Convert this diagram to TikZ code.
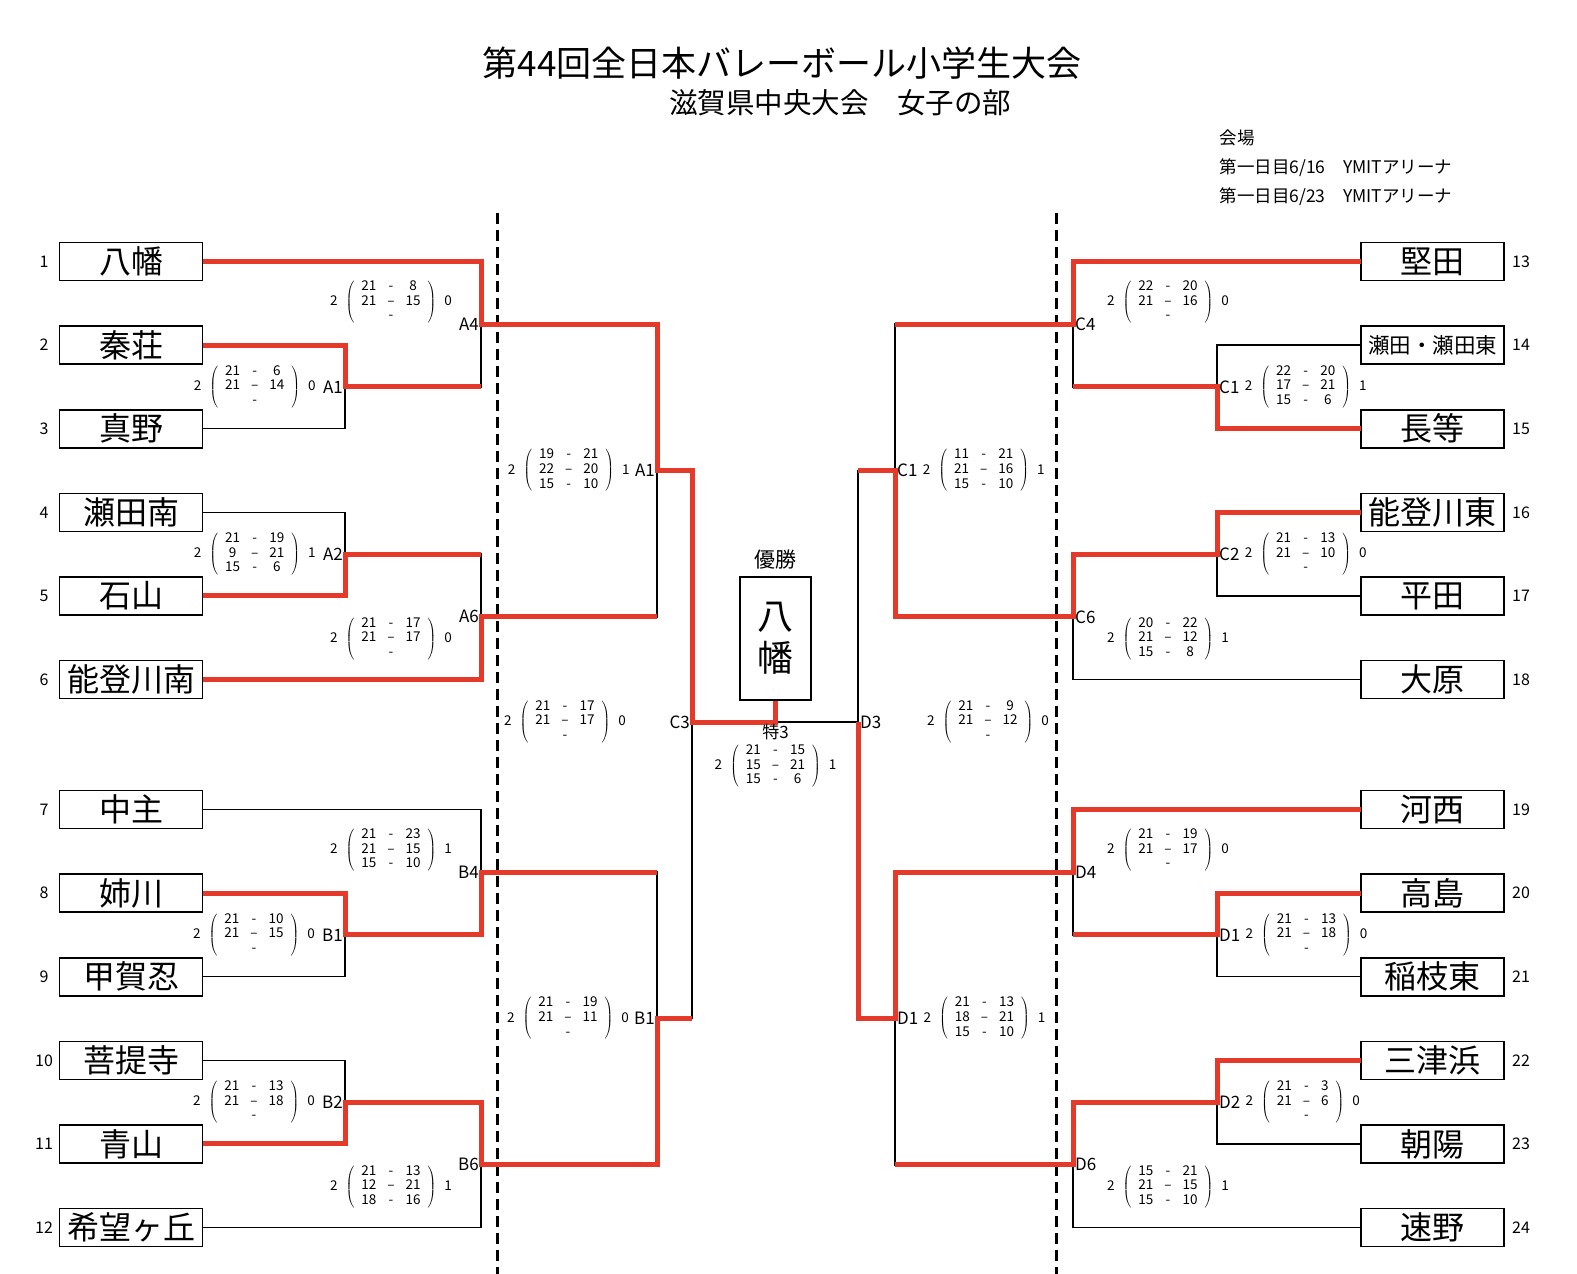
\documentclass[tikz,border=0pt]{standalone}
\usepackage{fontspec}
\setmainfont{Noto Sans CJK JP}
\usetikzlibrary{positioning, calc}

\definecolor{winred}{RGB}{229,57,42}

% result of one match: sets, three games, sets
\newcommand{\scorebox}[8]{#1\hspace{8pt}$\left(\hspace{7pt}\begin{tabular}{@{}c@{\hspace{11pt}}c@{\hspace{11pt}}c@{}}#2&-&#3\\#4&–&#5\\#6&-&#7\end{tabular}\hspace{7pt}\right)$\hspace{8pt}#8}

\begin{document}
\begin{tikzpicture}[
    x=1pt, y=-1pt,
    node distance=45.6pt and 4pt,
    team/.style={draw, line width=1.6pt, minimum width=143pt, minimum height=38pt, inner sep=0pt, outer sep=0pt, font=\fontsize{32}{32}\selectfont},
    winner/.style={draw, line width=1.5pt, minimum width=71pt, minimum height=123pt, align=center, font=\fontsize{36}{42}\selectfont},
    seed/.style={font=\fontsize{16}{16}\selectfont},
    mlabel/.style={font=\fontsize{17}{17}\selectfont, inner sep=2pt},
    score/.style={font=\fontsize{13.5}{14.7}\selectfont, inner sep=1pt},
    bline/.style={draw, line width=1.5pt},
    win/.style={draw=winred, line width=5pt},
    divider/.style={dash pattern=on 11pt off 6pt, line width=3pt}
  ]

  \path[use as bounding box, fill=white] (0,0) rectangle (1577,1274);

  % Titles
  \node[font=\fontsize{35}{35}\selectfont] (title) at (782,63) {第44回全日本バレーボール小学生大会};
  \node[font=\fontsize{28.5}{28.5}\selectfont] (subtitle) at (840,103) {滋賀県中央大会　女子の部};
  \node[font=\fontsize{17.5}{29}\selectfont, align=left, anchor=west] (venue) at (1216,168)
    {会場\\第一日目6/16　YMITアリーナ\\第一日目6/23　YMITアリーナ};

  % Dashed separation lines
  \draw[divider] (497,213) -- (497,1274);
  \draw[divider] (1056,213) -- (1056,1274);

  % Teams, left
  \node[team] (t1) at (131,261.5) {八幡};
  \node[team, below=of t1] (t2) {秦荘};
  \node[team, below=of t2] (t3) {真野};
  \node[team, below=of t3] (t4) {瀬田南};
  \node[team, below=of t4] (t5) {石山};
  \node[team, below=of t5] (t6) {能登川南};
  \node[team] (t7) at (131,809.5) {中主};
  \node[team, below=of t7] (t8) {姉川};
  \node[team, below=of t8] (t9) {甲賀忍};
  \node[team, below=of t9] (t10) {菩提寺};
  \node[team, below=of t10] (t11) {青山};
  \node[team, below=of t11] (t12) {希望ヶ丘};

  % Teams, right
  \node[team] (t13) at (1432.5,261.5) {堅田};
  \node[team, below=of t13] (t14) {\fontsize{21.5}{21.5}\selectfont 瀬田・瀬田東};
  \node[team, below=of t14] (t15) {長等};
  \node[team, below=of t15] (t16) {能登川東};
  \node[team, below=of t16] (t17) {平田};
  \node[team, below=of t17] (t18) {大原};
  \node[team] (t19) at (1432.5,809.5) {河西};
  \node[team, below=of t19] (t20) {高島};
  \node[team, below=of t20] (t21) {稲枝東};
  \node[team, below=of t21] (t22) {三津浜};
  \node[team, below=of t22] (t23) {朝陽};
  \node[team, below=of t23] (t24) {速野};

  % Draw numbers
  \foreach \i in {1,...,12} \node[seed] (n\i) at ([xshift=-87pt]t\i.center) {\i};
  \foreach \i in {13,...,24} \node[seed] (n\i) at ([xshift=88.5pt]t\i.center) {\i};

  % Champion
  \node[winner] (champ) at (775.5,638.5) {八\\幡};
  \node[font=\fontsize{21}{21}\selectfont, above=3pt of champ] (yusho) {優勝};

  % Match points
  \coordinate (mA1) at (345,386.9);
  \coordinate (mA4) at (481,324.2);
  \coordinate (mA2) at (345,554.1);
  \coordinate (mA6) at (481,616.8);
  \coordinate (mA1t) at (657,470.5);
  \coordinate (mB1) at (345,934.9);
  \coordinate (mB4) at (481,872.2);
  \coordinate (mB2) at (345,1102.1);
  \coordinate (mB6) at (481,1164.8);
  \coordinate (mB1t) at (657,1018.5);
  \coordinate (mC3) at (692,722);
  \coordinate (mD3) at (858,722);
  \coordinate (mC1) at (1217,386.9);
  \coordinate (mC4) at (1073,324.2);
  \coordinate (mC2) at (1217,554.1);
  \coordinate (mC6) at (1073,616.8);
  \coordinate (mC1t) at (895,470.5);
  \coordinate (mD1) at (1217,934.9);
  \coordinate (mD4) at (1073,872.2);
  \coordinate (mD2) at (1217,1102.1);
  \coordinate (mD6) at (1073,1164.8);
  \coordinate (mD1t) at (895,1018.5);

  % Bracket lines
  \draw[bline] (t2.east) -| (mA1) |- (t3.east);
  \draw[bline] (t1.east) -| (mA4) |- (mA1);
  \draw[bline] (t4.east) -| (mA2) |- (t5.east);
  \draw[bline] (mA2) -| (mA6) |- (t6.east);
  \draw[bline] (mA4) -| (mA1t) |- (mA6);
  \draw[bline] (t8.east) -| (mB1) |- (t9.east);
  \draw[bline] (t7.east) -| (mB4) |- (mB1);
  \draw[bline] (t10.east) -| (mB2) |- (t11.east);
  \draw[bline] (mB2) -| (mB6) |- (t12.east);
  \draw[bline] (mB4) -| (mB1t) |- (mB6);
  \draw[bline] (mA1t) -| (mC3) |- (mB1t);
  \draw[bline] (mC3) -- (mD3);
  \draw[bline] (mC1t) -| (mD3) |- (mD1t);
  \draw[bline] (t14.west) -| (mC1) |- (t15.west);
  \draw[bline] (t13.west) -| (mC4) |- (mC1);
  \draw[bline] (t16.west) -| (mC2) |- (t17.west);
  \draw[bline] (mC2) -| (mC6) |- (t18.west);
  \draw[bline] (mC4) -| (mC1t) |- (mC6);
  \draw[bline] (t20.west) -| (mD1) |- (t21.west);
  \draw[bline] (t19.west) -| (mD4) |- (mD1);
  \draw[bline] (t22.west) -| (mD2) |- (t23.west);
  \draw[bline] (mD2) -| (mD6) |- (t24.west);
  \draw[bline] (mD4) -| (mD1t) |- (mD6);

  % Winners
  \draw[win] (t1.east) -| (mA4) -- (mA4 -| mA1t) |- (mA1t -| mC3) |- (champ.south |- mC3) -- (champ.south);
  \draw[win] (t2.east) -| (mA1) -- (mA1 -| mA4);
  \draw[win] (t5.east) -| (mA2) -- (mA2 -| mA6);
  \draw[win] (t6.east) -| (mA6) -- (mA6 -| mA1t);
  \draw[win] (t8.east) -| (mB1) -- (mB1 -| mB4) |- (mB4 -| mB1t);
  \draw[win] (t11.east) -| (mB2) -- (mB2 -| mB6) |- (mB6 -| mB1t) |- (mB1t -| mC3);
  \draw[win] (t13.west) -| (mC4) -- (mC4 -| mC1t);
  \draw[win] (t15.west) -| (mC1) -- (mC1 -| mC4);
  \draw[win] (t16.west) -| (mC2) -- (mC2 -| mC6) |- (mC6 -| mC1t) |- (mC1t -| mD3);
  \draw[win] (t19.west) -| (mD4) -- (mD4 -| mD1t) |- (mD1t -| mD3) -- (mD3);
  \draw[win] (t20.west) -| (mD1) -- (mD1 -| mD4);
  \draw[win] (t22.west) -| (mD2) -- (mD2 -| mD6) |- (mD6 -| mD1t);

  % Match labels and scores, left
  \node[mlabel, anchor=east] (lA1) at (mA1) {A1};
  \node[score, left=4pt of lA1] (sA1) {\scorebox{2}{21}{6}{21}{14}{}{}{0}};
  \node[mlabel, anchor=east] (lA2) at (mA2) {A2};
  \node[score, left=4pt of lA2] (sA2) {\scorebox{2}{21}{19}{9}{21}{15}{6}{1}};
  \node[mlabel, anchor=east] (lB1) at (mB1) {B1};
  \node[score, left=4pt of lB1] (sB1) {\scorebox{2}{21}{10}{21}{15}{}{}{0}};
  \node[mlabel, anchor=east] (lB2) at (mB2) {B2};
  \node[score, left=4pt of lB2] (sB2) {\scorebox{2}{21}{13}{21}{18}{}{}{0}};
  \node[mlabel, anchor=east] (lA4) at (mA4) {A4};
  \node[score] (sA4) at ($(mA4)+(-90,-22)$) {\scorebox{2}{21}{8}{21}{15}{}{}{0}};
  \node[mlabel, anchor=east] (lA6) at (mA6) {A6};
  \node[score] (sA6) at ($(mA6)+(-90,22)$) {\scorebox{2}{21}{17}{21}{17}{}{}{0}};
  \node[mlabel, anchor=east] (lB4) at (mB4) {B4};
  \node[score] (sB4) at ($(mB4)+(-90,-22)$) {\scorebox{2}{21}{23}{21}{15}{15}{10}{1}};
  \node[mlabel, anchor=east] (lB6) at (mB6) {B6};
  \node[score] (sB6) at ($(mB6)+(-90,22)$) {\scorebox{2}{21}{13}{12}{21}{18}{16}{1}};
  \node[mlabel, anchor=east] (lA1t) at (mA1t) {A1};
  \node[score, left=2pt of lA1t] (sA1t) {\scorebox{2}{19}{21}{22}{20}{15}{10}{1}};
  \node[mlabel, anchor=east] (lB1t) at (mB1t) {B1};
  \node[score, left=2pt of lB1t] (sB1t) {\scorebox{2}{21}{19}{21}{11}{}{}{0}};
  \node[mlabel, anchor=east] (lC3) at (mC3) {C3};
  \node[score] (sC3) at (565,722) {\scorebox{2}{21}{17}{21}{17}{}{}{0}};

  % Final
  \node[mlabel, anchor=north] (lT3) at (champ.south |- mC3) {特3};
  \node[score, below=1pt of lT3] (sT3) {\scorebox{2}{21}{15}{15}{21}{15}{6}{1}};

  % Match labels and scores, right
  \node[mlabel, anchor=west] (lD3) at (mD3) {D3};
  \node[score] (sD3) at (988,722) {\scorebox{2}{21}{9}{21}{12}{}{}{0}};
  \node[mlabel, anchor=west] (lC1t) at (mC1t) {C1};
  \node[score, right=2pt of lC1t] (sC1t) {\scorebox{2}{11}{21}{21}{16}{15}{10}{1}};
  \node[mlabel, anchor=west] (lD1t) at (mD1t) {D1};
  \node[score, right=2pt of lD1t] (sD1t) {\scorebox{2}{21}{13}{18}{21}{15}{10}{1}};
  \node[mlabel, anchor=west] (lC4) at (mC4) {C4};
  \node[score] (sC4) at ($(mC4)+(95,-22)$) {\scorebox{2}{22}{20}{21}{16}{}{}{0}};
  \node[mlabel, anchor=west] (lC6) at (mC6) {C6};
  \node[score] (sC6) at ($(mC6)+(95,22)$) {\scorebox{2}{20}{22}{21}{12}{15}{8}{1}};
  \node[mlabel, anchor=west] (lD4) at (mD4) {D4};
  \node[score] (sD4) at ($(mD4)+(95,-22)$) {\scorebox{2}{21}{19}{21}{17}{}{}{0}};
  \node[mlabel, anchor=west] (lD6) at (mD6) {D6};
  \node[score] (sD6) at ($(mD6)+(95,22)$) {\scorebox{2}{15}{21}{21}{15}{15}{10}{1}};
  \node[mlabel, anchor=west] (lC1) at (mC1) {C1};
  \node[score, right=2pt of lC1] (sC1) {\scorebox{2}{22}{20}{17}{21}{15}{6}{1}};
  \node[mlabel, anchor=west] (lC2) at (mC2) {C2};
  \node[score, right=2pt of lC2] (sC2) {\scorebox{2}{21}{13}{21}{10}{}{}{0}};
  \node[mlabel, anchor=west] (lD1) at (mD1) {D1};
  \node[score, right=2pt of lD1] (sD1) {\scorebox{2}{21}{13}{21}{18}{}{}{0}};
  \node[mlabel, anchor=west] (lD2) at (mD2) {D2};
  \node[score, right=2pt of lD2] (sD2) {\scorebox{2}{21}{3}{21}{6}{}{}{0}};
\end{tikzpicture}
\end{document}
